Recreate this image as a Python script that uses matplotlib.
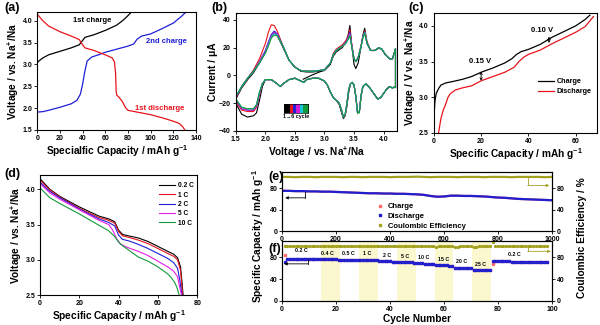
import matplotlib
matplotlib.use("Agg")
import matplotlib.pyplot as plt
import numpy as np
from matplotlib.colors import ListedColormap
from matplotlib.lines import Line2D

plt.rcParams.update({
    "font.family": ["Liberation Sans", "DejaVu Sans"],
    "font.weight": "bold",
    "axes.labelweight": "bold",
    "axes.linewidth": 0.8,
    "xtick.labelsize": 5,
    "ytick.labelsize": 5,
    "xtick.major.size": 2,
    "ytick.major.size": 2,
    "xtick.major.width": 0.6,
    "ytick.major.width": 0.6,
    "xtick.major.pad": 1.5,
    "ytick.major.pad": 1.5,
    "mathtext.fontset": "custom",
    "mathtext.rm": "Liberation Sans:bold",
    "mathtext.bf": "Liberation Sans:bold",
    "mathtext.it": "Liberation Sans:bold",
    "mathtext.default": "bf",
})

# ---------------- (a) data ----------------
a_c1_x = [0, 0, 0.5, 5, 10, 20, 30, 37, 40, 42, 50, 60, 70, 76, 80, 83]
a_c1_y = [1.9, 3.0, 3.06, 3.15, 3.22, 3.30, 3.38, 3.45, 3.55, 3.62, 3.68, 3.78, 3.90, 4.02, 4.12, 4.2]
a_c2_x = [0, 5, 10, 20, 30, 35, 38, 40, 42, 44, 48, 55, 60, 70, 80, 85, 88, 92, 100, 110, 120, 127, 131]
a_c2_y = [1.91, 1.92, 1.95, 2.02, 2.10, 2.18, 2.32, 2.55, 2.85, 3.08, 3.17, 3.23, 3.28, 3.35, 3.42, 3.47, 3.58, 3.65, 3.70, 3.82, 3.95, 4.10, 4.2]
a_d1_x = [0, 5, 10, 20, 30, 37, 40, 42, 50, 60, 66, 68, 69, 69.5, 70, 72, 75, 78, 80, 90, 100, 110, 120, 125, 128, 130]
a_d1_y = [4.15, 4.0, 3.88, 3.75, 3.65, 3.57, 3.45, 3.38, 3.32, 3.22, 3.15, 3.06, 2.8, 2.4, 2.3, 2.25, 2.15, 2.0, 1.95, 1.90, 1.85, 1.78, 1.70, 1.65, 1.58, 1.5]

# ---------------- (b) data ----------------
b_v_ox = [1.50, 1.60, 1.70, 1.80, 1.90, 2.00, 2.05, 2.10, 2.15, 2.20, 2.30, 2.40, 2.50, 2.60, 2.70, 2.80,
          2.90, 3.00, 3.10, 3.15, 3.20, 3.30, 3.36, 3.40, 3.43, 3.46, 3.50, 3.53, 3.57, 3.62, 3.65, 3.68,
          3.72, 3.78, 3.85, 3.92, 3.97, 4.03, 4.10, 4.15, 4.20]
b_ox_1 = [-17, -9, -3, 2, 9, 17, 23, 28, 31, 29, 20, 11, 6, 3, 2.5, 2.5, 3, 3.5, 8, 14, 17, 20, 24, 29, 36, 22, 8, 5, 9, 21, 29, 34, 24, 18, 18, 19.5, 19, 15, 12, 12, 19]
b_ox_2 = [-16, -8, -2, 4, 12, 23, 31, 36.5, 36, 32, 21, 11, 6, 3.5, 3, 3, 3.5, 4, 9, 16, 19, 22, 25, 28, 33, 23, 12, 10, 13, 22, 28, 32, 24, 18, 18, 20, 19, 15, 12, 12, 19]
b_ox_3 = [-16, -8, -2, 3, 10, 18, 24, 29.5, 32, 30, 21, 11, 6, 3.5, 3, 3, 3.5, 4, 9, 15, 18, 21, 24, 27, 31, 22, 12, 10, 13, 21, 28, 31, 23, 18, 18, 20, 19, 15, 12, 12, 19]
b_ox_4 = [-16, -8, -2, 3, 10, 17, 23, 28.5, 31, 29.5, 21, 11, 6, 3.5, 3, 3, 3.5, 4, 9, 15, 18, 21, 24, 27, 30, 22, 12, 10, 13, 21, 28, 31, 23, 18, 18, 20, 19, 15, 12, 12, 19]
b_ox_5 = [-15, -8, -2, 3, 9, 16, 22, 27.5, 30, 29, 21, 11, 6, 3.5, 3, 3, 3.5, 4, 9, 15, 18, 21, 23, 26, 29, 21, 12, 10, 13, 21, 27, 31, 23, 18, 18, 20, 19, 15, 12, 12, 19]
b_ox_6 = [-15, -8, -2, 3, 9, 16, 21, 27, 29, 28.5, 21, 11, 6, 3.5, 3, 3, 3.5, 4, 9, 15, 18, 21, 23, 26, 28.5, 21, 12, 10, 13, 21, 27, 30.5, 23, 18, 18, 20, 19, 15, 12, 12, 19]
b_v_rd = [4.20, 4.15, 4.10, 4.05, 4.00, 3.95, 3.90, 3.85, 3.80, 3.75, 3.70, 3.65, 3.62, 3.59, 3.56, 3.53,
          3.50, 3.47, 3.44, 3.41, 3.38, 3.35, 3.32, 3.29, 3.25, 3.20, 3.15, 3.10, 3.05, 3.00, 2.90, 2.80,
          2.70, 2.65, 2.60, 2.50, 2.40, 2.30, 2.25, 2.20, 2.10, 2.00, 1.95, 1.90, 1.85, 1.80, 1.70, 1.60, 1.50]
b_rd_1 = [-8, -9, -8, -10, -13, -16, -17, -14, -11, -8, -6, -8, -15, -26, -27, -15, -7, -5, -6, -12, -22, -29, -31, -27, -21, -18, -16, -12, -7, -4, -2, -2, -3, -5, -4, -2, -3, -6, -8, -6, -3, -3, -8, -18, -27, -29, -30, -28, -20]
b_rd_2 = [-8, -9, -8, -10, -13, -16, -17, -14, -11, -8, -6, -8, -14, -26, -27, -15, -7, -5, -6, -11, -21, -29, -30, -26, -20, -18, -16, -12, -7, -4, -2, -2, -3, -5, -4, -2, -3, -6, -8, -6, -3, -3, -6, -14, -23, -26, -26, -25, -19]
b_rd_3 = [-8, -9, -8, -10, -13, -16, -17, -14, -11, -8, -6, -8, -14, -26, -27, -15, -7, -5, -6, -10, -20, -28, -30, -25, -20, -18, -16, -12, -7, -4, -2, -2, -3, -5, -4, -2, -3, -6, -8, -6, -3, -3, -6, -13, -22, -25, -25, -24, -18]
b_rd_4 = [-8, -9, -8, -10, -13, -16, -17, -14, -11, -8, -6, -8, -14, -26, -27, -15, -7, -5, -6, -10, -20, -28, -30, -25, -20, -18, -16, -12, -7, -4, -2, -2, -3, -5, -4, -2, -3, -6, -8, -6, -3, -3, -6, -13, -22, -25, -25, -24, -18]
b_rd_5 = [-8, -9, -8, -10, -13, -16, -17, -14, -11, -8, -6, -8, -14, -26, -27, -15, -7, -5, -6, -10, -20, -28, -30, -25, -20, -18, -16, -12, -7, -4, -2, -2, -3, -5, -4, -2, -3, -6, -8, -6, -3, -3, -6, -12, -21, -24, -24, -23, -17]
b_rd_6 = [-8, -9, -8, -10, -13, -16, -17, -14, -11, -8, -6, -8, -14, -27, -27, -15, -7, -5, -6, -10, -20, -28, -30, -25, -20, -18, -16, -12, -7, -4, -2, -2, -3, -5, -4, -2, -3, -6, -8, -6, -3, -3, -6, -12, -21, -24, -24, -23, -17]
b_ocv_v = [2.64, 2.80, 2.98]
b_ocv_i = [-2.7, 0.5, 3.6]
b_colors = ["black", "#e8141c", "#1f1fd8", "#d21ad2", "#12c8d8", "#139a3c"]

# ---------------- (c) data ----------------
c_ch_x = [0, 0.5, 1, 2, 3, 5, 8, 12, 16, 20, 25, 30, 33, 35, 37, 40, 45, 50, 55, 60, 64, 66]
c_ch_y = [2.7, 2.95, 3.05, 3.12, 3.17, 3.20, 3.22, 3.25, 3.29, 3.35, 3.41, 3.48, 3.54, 3.60, 3.64, 3.67, 3.74, 3.84, 3.92, 4.00, 4.09, 4.15]
c_dc_x = [2, 3, 4, 5, 6, 7, 9, 12, 16, 20, 25, 30, 34, 36, 38, 40, 45, 50, 55, 60, 64, 67.5]
c_dc_y = [2.5, 2.7, 2.82, 2.9, 3.0, 3.05, 3.10, 3.13, 3.16, 3.23, 3.29, 3.35, 3.42, 3.50, 3.56, 3.60, 3.66, 3.75, 3.83, 3.91, 3.99, 4.13]

# ---------------- (d) data ----------------
d_rates = ["0.2 C", "1 C", "2 C", "5 C", "10 C"]
d_colors = ["black", "#e8141c", "#1f1fd8", "#e61ee6", "#139a3c"]
d_x_02 = [0, 5, 10, 20, 30, 35, 38, 40, 42, 45, 50, 55, 60, 65, 68, 70, 71.5, 72.2, 72.8]
d_y_02 = [4.15, 4.0, 3.9, 3.75, 3.62, 3.58, 3.54, 3.42, 3.36, 3.34, 3.31, 3.26, 3.19, 3.12, 3.08, 3.03, 2.9, 2.7, 2.5]
d_x_1 = [0, 5, 10, 20, 30, 35, 38, 40, 42, 45, 50, 55, 60, 65, 68, 70, 71.5, 72.1, 72.6]
d_y_1 = [4.13, 3.99, 3.89, 3.73, 3.60, 3.56, 3.52, 3.40, 3.34, 3.32, 3.28, 3.23, 3.16, 3.09, 3.05, 3.0, 2.85, 2.65, 2.5]
d_x_2 = [0, 5, 10, 20, 30, 35, 38, 40, 42, 45, 50, 55, 60, 65, 68, 70, 71.2, 71.8, 72.3]
d_y_2 = [4.10, 3.97, 3.88, 3.72, 3.58, 3.53, 3.48, 3.35, 3.29, 3.27, 3.22, 3.16, 3.09, 3.02, 2.96, 2.88, 2.7, 2.58, 2.5]
d_x_5 = [0, 5, 10, 20, 30, 35, 37, 39, 41, 45, 50, 55, 60, 65, 68, 70, 71, 71.6, 72.0]
d_y_5 = [4.08, 3.95, 3.86, 3.71, 3.56, 3.50, 3.42, 3.30, 3.22, 3.17, 3.12, 3.06, 2.98, 2.9, 2.84, 2.76, 2.62, 2.55, 2.5]
d_x_10 = [0, 5, 10, 20, 30, 35, 38, 40, 42, 45, 50, 55, 60, 65, 67, 68.5, 69.5, 70.2, 70.8]
d_y_10 = [4.02, 3.88, 3.80, 3.65, 3.49, 3.41, 3.33, 3.25, 3.20, 3.14, 3.04, 2.98, 2.90, 2.80, 2.74, 2.68, 2.62, 2.56, 2.5]

# ---------------- (e) data ----------------
e_cycles = [1, 25, 50, 75, 100, 125, 150, 175, 200, 225, 250, 275, 300, 325, 350, 375, 400, 425, 450, 475,
            500, 525, 550, 575, 600, 625, 650, 675, 700, 725, 750, 775, 800, 825, 850, 875, 900, 925, 950, 975, 1000]
e_discharge = [75, 75, 74.5, 74.5, 74, 74, 73.5, 73.5, 73, 72.5, 72, 71.5, 71, 70.5, 70.5, 70, 70, 69.5, 69.5, 69,
               68.5, 67.5, 65.5, 64, 64.5, 66, 66, 65.5, 65.5, 65, 64.5, 63.5, 62.5, 62, 61, 60, 59.5, 59, 58.5, 58, 57.5]
e_charge = [75.5, 75, 74.5, 74.5, 74, 74, 73.5, 73.5, 73, 72.5, 72, 71.5, 71, 70.5, 70.5, 70, 70, 69.5, 69.5, 69,
            68.5, 67.5, 65.5, 64, 64.5, 66, 66, 65.5, 65.5, 65, 64.5, 63.5, 62.5, 62, 61, 60, 59.5, 59, 58.5, 58, 57.5]
e_ce = [101, 101, 100.5, 101, 101, 100.5, 101, 101, 101, 100.5, 101, 101, 100.5, 101, 101, 101, 100.5, 101, 101, 101,
        101.5, 101, 100.5, 101, 101, 101, 100.5, 101, 101, 101, 100.5, 101, 101, 101, 100.5, 101, 101, 101, 101, 100.5, 101]

# ---------------- (f) data ----------------
f_discharge = ([72, 77, 77.5, 77.5, 77, 77, 77, 77, 76.5, 76.5, 76.5, 76.5, 76.5, 76.5]       # 0.2 C
               + [76, 76, 76, 76, 76, 76, 75.5]                                          # 0.4 C
               + [75.5, 75.5, 75.5, 75.5, 75, 75, 75]                                    # 0.5 C
               + [75, 75, 75, 74.5, 74.5, 74.5, 74.5]                                    # 1 C
               + [73, 72.5, 72.5, 72.5, 72.5, 72, 72]                                    # 2 C
               + [71, 71, 70.5, 70.5, 70.5, 70.5, 70]                                    # 5 C
               + [69, 69, 69, 68.5, 68.5, 68.5, 68]                                      # 10 C
               + [65.5, 65.5, 65, 65, 65, 64.5, 64.5]                                    # 15 C
               + [61, 60.5, 60.5, 60.5, 60, 60, 60]                                      # 20 C
               + [57.5, 57, 57, 57, 57, 56.5, 56.5]                                      # 25 C
               + [72.5, 72.5, 72.5, 72.5, 72.5, 72.5, 72.5, 72, 72, 72, 72, 72, 72, 72,
                  72, 72, 71.5, 71.5, 71.5, 71.5, 71.5])                                 # 0.2 C
f_charge = ([85, 77, 77.5, 77.5, 77, 77, 77, 77, 76.5, 76.5, 76.5, 76.5, 76.5, 76.5]
            + [76, 76, 76, 76, 76, 76, 75.5]
            + [75.5, 75.5, 75.5, 75.5, 75, 75, 75]
            + [75, 75, 75, 74.5, 74.5, 74.5, 74.5]
            + [73, 72.5, 72.5, 72.5, 72.5, 72, 72]
            + [71, 71, 70.5, 70.5, 70.5, 70.5, 70]
            + [69, 69, 69, 68.5, 68.5, 68.5, 68]
            + [65.5, 65.5, 65, 65, 65, 64.5, 64.5]
            + [61, 60.5, 60.5, 60.5, 60, 60, 60]
            + [57.5, 57, 57, 57, 57, 56.5, 56.5]
            + [67, 72.5, 72.5, 72.5, 72.5, 72.5, 72.5, 72, 72, 72, 72, 72, 72, 72,
               72, 72, 71.5, 71.5, 71.5, 71.5, 71.5])
f_ce = ([101, 101, 101, 101, 101, 101, 101, 101, 101, 101, 101, 101, 101, 101]
        + [101, 101, 101, 101, 101, 101, 101]
        + [101, 101, 101, 101, 101, 101, 101]
        + [101, 101, 101, 101, 101, 101, 101]
        + [100, 100, 100.5, 100.5, 100.5, 100.5, 100.5]
        + [100.5, 100.5, 100.5, 100.5, 100.5, 100.5, 100.5]
        + [100.5, 100.5, 100.5, 100.5, 100.5, 100.5, 100.5]
        + [99.5, 100, 100, 100, 100, 100, 100]
        + [99, 99.5, 100, 100, 100, 100, 100]
        + [99, 99.5, 100, 100, 100, 100, 100]
        + [108, 101, 101, 101, 101, 101, 101, 101, 101, 101, 101, 101, 101, 101,
           101, 101, 101, 101, 101, 101, 101])
f_cycles = list(range(1, len(f_discharge) + 1))
f_rate_labels = ["0.2 C", "0.4 C", "0.5 C", "1 C", "2 C", "5 C", "10 C", "15 C", "20 C", "25 C", "0.2 C"]
f_label_x = [7, 17, 24.5, 31.5, 39, 45.5, 52.5, 60, 66.5, 73.5, 86]
f_label_y = [87, 83, 83, 82, 78, 77, 75, 71, 67, 63, 81]
f_bands = [(14.5, 21.5), (28.5, 35.5), (42.5, 49.5), (56.5, 63.5), (70.5, 77.5)]

# ============================================================
fig = plt.figure(figsize=(6, 3.25), dpi=100)

LBL = 7.3


def style(ax):
    ax.tick_params(direction="out", top=False, right=False)
    for s in ax.spines.values():
        s.set_linewidth(0.8)


# (a)
ax = fig.add_axes([0.062, 0.600, 0.265, 0.363])
ax.plot(a_c1_x, a_c1_y, color="black", lw=0.9)
ax.plot(a_c2_x, a_c2_y, color="#1f1fd8", lw=0.9)
ax.plot(a_d1_x, a_d1_y, color="#e8141c", lw=0.9)
ax.set_xlim(0, 140)
ax.set_ylim(1.5, 4.2)
ax.set_xticks(range(0, 141, 20))
ax.set_yticks([1.5, 2.0, 2.5, 3.0, 3.5, 4.0])
ax.text(48, 4.0, "1st charge", fontsize=5.5, color="black", ha="center", va="center")
ax.text(114, 3.52, "2nd charge", fontsize=5.5, color="#1f1fd8", ha="center", va="center")
ax.text(108, 2.0, "1st discharge", fontsize=5.5, color="#e8141c", ha="center", va="center")
ax.set_xlabel("Specialfic Capacity / mAh g$^{-1}$", fontsize=LBL, labelpad=1)
ax.set_ylabel("Voltage / vs. Na$^{+}$/Na", fontsize=LBL, labelpad=1)
style(ax)
fig.text(0.008, 0.965, "(a)", fontsize=9, fontweight="bold")

# (b)
ax = fig.add_axes([0.393, 0.597, 0.268, 0.363])
ox = [b_ox_1, b_ox_2, b_ox_3, b_ox_4, b_ox_5, b_ox_6]
rd = [b_rd_1, b_rd_2, b_rd_3, b_rd_4, b_rd_5, b_rd_6]
ax.plot(b_ocv_v, b_ocv_i, color="black", lw=0.8)
for i in range(6):
    ax.plot(b_v_ox, ox[i], color=b_colors[i], lw=0.8)
    ax.plot(b_v_rd, rd[i], color=b_colors[i], lw=0.8)
    ax.plot([b_v_rd[0], b_v_ox[-1]], [rd[i][0], ox[i][-1]], color=b_colors[i], lw=0.8)
ax.set_xlim(1.5, 4.22)
ax.set_ylim(-40, 45)
ax.set_xticks([1.5, 2.0, 2.5, 3.0, 3.5, 4.0])
ax.set_yticks([-40, -20, 0, 20, 40])
ax.set_xlabel("Voltage / vs. Na$^{+}$/Na", fontsize=LBL, labelpad=1)
ax.set_ylabel("Current / μA", fontsize=LBL, labelpad=1)
style(ax)
ins = ax.inset_axes([0.30, 0.15, 0.15, 0.075])
ins.imshow(np.arange(6).reshape(1, 6), cmap=ListedColormap(b_colors), aspect="auto", interpolation="bilinear")
ins.set_xticks([])
ins.set_yticks([])
for s in ins.spines.values():
    s.set_linewidth(0.5)
ax.text(0.375, 0.12, "1→6 cycle", transform=ax.transAxes, fontsize=3.8, ha="center", va="center",
        family=["Liberation Sans", "DejaVu Sans"])
fig.text(0.352, 0.965, "(b)", fontsize=9, fontweight="bold")

# (c)
ax = fig.add_axes([0.723, 0.591, 0.272, 0.369])
ax.plot(c_ch_x, c_ch_y, color="black", lw=0.9, label="Charge")
ax.plot(c_dc_x, c_dc_y, color="#e8141c", lw=0.9, label="Discharge")
ax.set_xlim(0, 69)
ax.set_ylim(2.5, 4.18)
ax.set_xticks([0, 20, 40, 60])
ax.set_yticks([2.5, 3.0, 3.5, 4.0])
ax.annotate("", xy=(20, 3.23), xytext=(20, 3.36),
            arrowprops=dict(arrowstyle="<->", lw=0.6, color="black", mutation_scale=4, shrinkA=0, shrinkB=0))
ax.annotate("", xy=(48.7, 3.76), xytext=(48.7, 3.85),
            arrowprops=dict(arrowstyle="<->", lw=0.6, color="black", mutation_scale=4, shrinkA=0, shrinkB=0))
ax.text(19.5, 3.5, "0.15 V", fontsize=5.5, ha="center", va="center")
ax.text(45.6, 3.94, "0.10 V", fontsize=5.5, ha="center", va="center")
ax.legend(loc="center left", bbox_to_anchor=(0.64, 0.385), frameon=False, fontsize=5.2,
          handlelength=2.2, handletextpad=0.3, labelspacing=0.45, borderpad=0, borderaxespad=0)
ax.set_xlabel("Specific Capacity / mAh g$^{-1}$", fontsize=LBL, labelpad=1)
ax.set_ylabel("Voltage / V vs. Na$^{+}$/Na", fontsize=LBL, labelpad=1)
style(ax)
fig.text(0.68, 0.965, "(c)", fontsize=9, fontweight="bold")

# (d)
ax = fig.add_axes([0.0667, 0.092, 0.262, 0.369])
dx = [d_x_02, d_x_1, d_x_2, d_x_5, d_x_10]
dy = [d_y_02, d_y_1, d_y_2, d_y_5, d_y_10]
for i in range(5):
    ax.plot(dx[i], dy[i], color=d_colors[i], lw=0.8, label=d_rates[i])
ax.set_xlim(0, 80)
ax.set_ylim(2.5, 4.2)
ax.set_xticks([0, 20, 40, 60, 80])
ax.set_yticks([2.5, 3.0, 3.5, 4.0])
ax.legend(loc="upper left", bbox_to_anchor=(0.72, 0.99), frameon=False, fontsize=4.8,
          handlelength=2.4, handletextpad=0.4, labelspacing=0.35)
ax.set_xlabel("Specific Capacity / mAh g$^{-1}$", fontsize=LBL, labelpad=1)
ax.set_ylabel("Voltage / vs. Na$^{+}$/Na", fontsize=LBL, labelpad=1)
style(ax)
fig.text(0.008, 0.455, "(d)", fontsize=9, fontweight="bold")

# (e)
BLUE = "#1f1fd0"
PINK = "#ff6a6a"
OLIVE = "#a3a020"
ax = fig.add_axes([0.47, 0.289, 0.45, 0.1815])
ax.plot(e_cycles, e_charge, color=PINK, lw=1.6)
ax.plot(e_cycles, e_discharge, color=BLUE, lw=1.6)
ax.set_xlim(0, 1000)
ax.set_ylim(0, 110)
ax.set_xticks(range(0, 1001, 200))
ax.set_yticks([0, 40, 80])
style(ax)
ax2 = ax.twinx()
ax2.plot(e_cycles, e_ce, color=OLIVE, lw=1.6)
ax2.set_ylim(0, 110)
ax2.set_yticks([0, 40, 80])
ax2.tick_params(direction="out", labelsize=5)
ax.plot([85, 85], [73, 62], color="black", lw=0.6)
ax.annotate("", xy=(12, 62), xytext=(85, 62),
            arrowprops=dict(arrowstyle="-|>", lw=0.6, color="black", mutation_scale=4, shrinkA=0, shrinkB=0))
ax2.plot([910, 910], [101, 85], color=OLIVE, lw=0.6)
ax2.annotate("", xy=(990, 85), xytext=(910, 85),
             arrowprops=dict(arrowstyle="-|>", lw=0.6, color=OLIVE, mutation_scale=4, shrinkA=0, shrinkB=0))
hs = [Line2D([], [], ls="none", marker="s", ms=2, color=PINK),
      Line2D([], [], ls="none", marker="s", ms=2, color=BLUE),
      Line2D([], [], ls="none", marker="s", ms=2, color=OLIVE)]
ax.legend(hs, ["Charge", "Discharge", "Coulombic Efficiency"], loc="upper left",
          bbox_to_anchor=(0.33, 0.54), frameon=False, fontsize=5.5, handlelength=1.2,
          handletextpad=0.5, labelspacing=0.3, borderpad=0)
fig.text(0.447, 0.445, "(e)", fontsize=9, fontweight="bold")

# (f)
ax = fig.add_axes([0.47, 0.074, 0.45, 0.1846])
for lo, hi in f_bands:
    ax.axvspan(lo, hi, color="#fbf7cf", lw=0, zorder=0)
ax.plot(f_cycles, f_charge, ls="none", marker="s", ms=1.4, color=PINK)
ax.plot(f_cycles, f_discharge, ls="none", marker="s", ms=1.4, color=BLUE)
ax.set_xlim(0, 100)
ax.set_ylim(0, 110)
ax.set_xticks(range(0, 101, 20))
ax.set_yticks([0, 40, 80])
style(ax)
for t, x, y in zip(f_rate_labels, f_label_x, f_label_y):
    ax.text(x, y, t, fontsize=3.8, ha="center", va="bottom")
ax.plot([9.6, 9.6], [76, 68], color="black", lw=0.6)
ax.annotate("", xy=(0.8, 68), xytext=(9.6, 68),
            arrowprops=dict(arrowstyle="-|>", lw=0.6, color="black", mutation_scale=4, shrinkA=0, shrinkB=0))
ax2 = ax.twinx()
ax2.plot(f_cycles, f_ce, ls="none", marker="s", ms=1.2, color=OLIVE)
ax2.set_ylim(0, 110)
ax2.set_yticks([0, 40, 80])
ax2.tick_params(direction="out", labelsize=5)
ax2.plot([91, 91], [101, 91], color=OLIVE, lw=0.6)
ax2.annotate("", xy=(99.5, 91), xytext=(91, 91),
             arrowprops=dict(arrowstyle="-|>", lw=0.6, color=OLIVE, mutation_scale=4, shrinkA=0, shrinkB=0))
ax.set_xlabel("Cycle Number", fontsize=LBL, labelpad=1)
fig.text(0.447, 0.225, "(f)", fontsize=9, fontweight="bold")

fig.text(0.43, 0.273, "Specific Capacity / mAh g$^{-1}$", rotation=90, fontsize=LBL,
         fontweight="bold", ha="center", va="center")
fig.text(0.97, 0.27, "Coulombic Efficiency / %", rotation=90, fontsize=LBL,
         fontweight="bold", ha="center", va="center")

fig.savefig("out.png", dpi=100)
